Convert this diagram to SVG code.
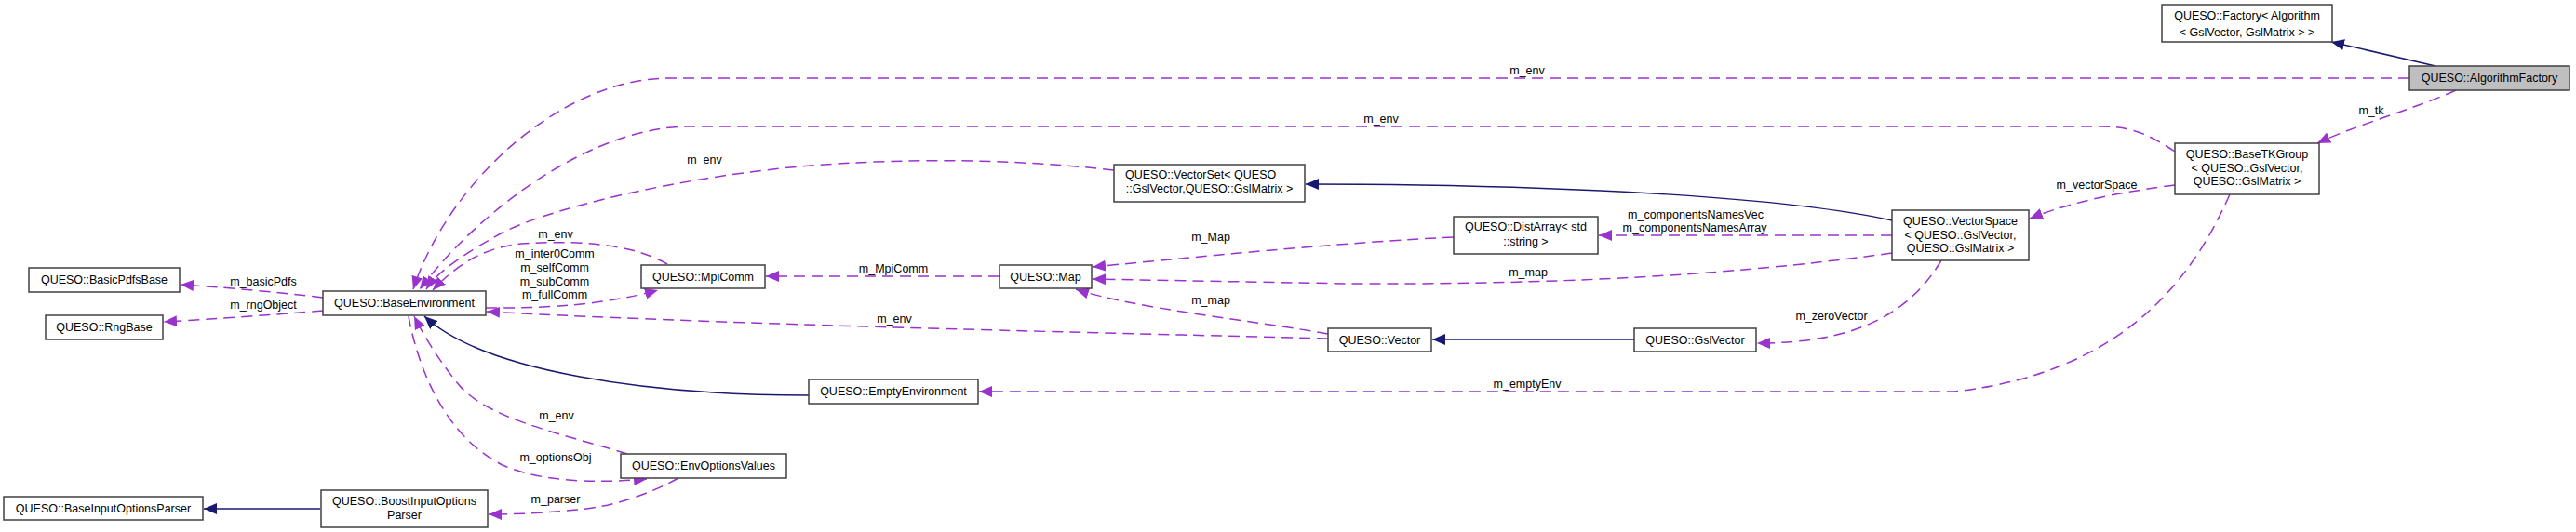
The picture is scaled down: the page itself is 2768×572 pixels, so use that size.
<svg xmlns="http://www.w3.org/2000/svg" width="2768" height="572" viewBox="0 0 2768 572">
<defs>
<style>
.n rect{fill:#ffffff;stroke:#404040;stroke-width:1.5}
.n text,.el text{font-family:"Liberation Sans",Arial,sans-serif;font-size:12.5px;fill:#000}
.n text{text-anchor:middle}
.el text{text-anchor:middle}
.a{fill:none;stroke:#9a32cd;stroke-width:1.5;stroke-dasharray:12 7;marker-end:url(#ap)}
.i{fill:none;stroke:#191970;stroke-width:1.5;marker-end:url(#ai)}
</style>
<marker id="ap" viewBox="0 0 14 12" refX="14" refY="6" markerWidth="14" markerHeight="12" markerUnits="userSpaceOnUse" orient="auto"><path d="M0,0 L14,6 L0,12 z" fill="#9a32cd"/></marker>
<marker id="ai" viewBox="0 0 14 12" refX="14" refY="6" markerWidth="14" markerHeight="12" markerUnits="userSpaceOnUse" orient="auto"><path d="M0,0 L14,6 L0,12 z" fill="#191970"/></marker>
</defs>
<rect width="2768" height="572" fill="#ffffff"/>
<g id="edges">
<path class="i" d="M2617,71 L2505,45"/>
<path class="a" d="M2589,84 L720,84 C600,84 480,200 444,311"/>
<path class="a" d="M2639,97 C2600,115 2530,135 2490,154"/>
<path class="a" d="M2337,163 C2310,145 2290,136 2260,136 L740,136 C640,136 520,220 451,311"/>
<path class="a" d="M1197,183 C1100,172 1000,170 900,176 C760,184 600,220 540,250 C500,272 470,292 458,311"/>
<path class="a" d="M2337,199 C2290,205 2230,215 2181,235"/>
<path class="a" d="M2396,209 C2360,290 2290,400 2100,421 L1052,421"/>
<path class="i" d="M2033,237 C1930,214 1700,198 1403,198"/>
<path class="a" d="M2033,253 L1718,253"/>
<path class="a" d="M2033,272 C1850,298 1650,306 1450,305 L1174,300"/>
<path class="a" d="M2086,280 C2050,340 1990,369 1888,369"/>
<path class="a" d="M1562,255 C1450,260 1300,275 1174,287"/>
<path class="a" d="M1074,297 L823,297"/>
<path class="a" d="M1427,359 C1350,345 1220,332 1156,311"/>
<path class="i" d="M1756,365 L1539,365"/>
<path class="a" d="M1427,364 C1200,358 800,350 523,335"/>
<path class="a" d="M717,284 C680,262 620,258 560,262 C520,266 490,285 465,312"/>
<path class="a" d="M522,331 C600,332 660,325 707,312"/>
<path class="a" d="M347,320 C300,314 240,309 194,306"/>
<path class="a" d="M347,334 C300,338 230,343 176,346"/>
<path class="i" d="M869,425 C700,425 520,400 456,340"/>
<path class="a" d="M674,488 C600,465 520,450 490,410 C470,385 455,360 445,340"/>
<path class="a" d="M439,340 C450,400 480,470 540,500 C580,518 640,520 695,515"/>
<path class="a" d="M729,514 C700,530 660,545 620,548 C580,552 550,553 525,553"/>
<path class="i" d="M344,547 L219,547"/>
</g>
<g id="edge-labels" class="el">
<text x="1641" y="80">m_env</text>
<text x="2548" y="123">m_tk</text>
<text x="1484" y="132">m_env</text>
<text x="2253" y="203">m_vectorSpace</text>
<text x="757" y="176">m_env</text>
<text x="597" y="256">m_env</text>
<text x="596" y="277">m_inter0Comm</text>
<text x="596" y="292">m_selfComm</text>
<text x="596" y="307">m_subComm</text>
<text x="596" y="321">m_fullComm</text>
<text x="960" y="293">m_MpiComm</text>
<text x="1301" y="259">m_Map</text>
<text x="1301" y="327">m_map</text>
<text x="1642" y="297">m_map</text>
<text x="1822" y="235">m_componentsNamesVec</text>
<text x="1821" y="249">m_componentsNamesArray</text>
<text x="1968" y="344">m_zeroVector</text>
<text x="961" y="347">m_env</text>
<text x="1641" y="417">m_emptyEnv</text>
<text x="283" y="307">m_basicPdfs</text>
<text x="283" y="332">m_rngObject</text>
<text x="598" y="451">m_env</text>
<text x="597" y="496">m_optionsObj</text>
<text x="597" y="541">m_parser</text>
</g>
<g id="Factory" class="n"><rect x="2323" y="5" width="183" height="40"/><text x="2414.5" y="21">QUESO::Factory&lt; Algorithm</text><text x="2414.5" y="39">&lt; GslVector, GslMatrix &gt; &gt;</text></g>
<g id="AlgorithmFactory" class="n"><rect x="2589" y="71" width="172" height="26" style="fill:#bfbfbf"/><text x="2675" y="88">QUESO::AlgorithmFactory</text></g>
<g id="BaseTKGroup" class="n"><rect x="2337" y="154" width="155" height="55"/><text x="2414.5" y="170">QUESO::BaseTKGroup</text><text x="2414.5" y="185">&lt; QUESO::GslVector,</text><text x="2414.5" y="199">QUESO::GslMatrix &gt;</text></g>
<g id="VectorSet" class="n"><rect x="1197" y="177" width="205" height="40"/><text x="1209" y="192" style="text-anchor:start">QUESO::VectorSet&lt; QUESO</text><text x="1299.5" y="207">::GslVector,QUESO::GslMatrix &gt;</text></g>
<g id="DistArray" class="n"><rect x="1562" y="233" width="155" height="40"/><text x="1574" y="248" style="text-anchor:start">QUESO::DistArray&lt; std</text><text x="1639.5" y="264">::string &gt;</text></g>
<g id="VectorSpace" class="n"><rect x="2033" y="226" width="147" height="54"/><text x="2106.5" y="242">QUESO::VectorSpace</text><text x="2106.5" y="257">&lt; QUESO::GslVector,</text><text x="2106.5" y="271">QUESO::GslMatrix &gt;</text></g>
<g id="Map" class="n"><rect x="1074" y="285" width="99" height="25"/><text x="1123.5" y="302">QUESO::Map</text></g>
<g id="MpiComm" class="n"><rect x="689" y="285" width="133" height="25"/><text x="755.5" y="302">QUESO::MpiComm</text></g>
<g id="BaseEnvironment" class="n"><rect x="347" y="313" width="175" height="26"/><text x="434.5" y="330">QUESO::BaseEnvironment</text></g>
<g id="BasicPdfsBase" class="n"><rect x="31" y="288" width="162" height="26"/><text x="112" y="305">QUESO::BasicPdfsBase</text></g>
<g id="RngBase" class="n"><rect x="49" y="339" width="126" height="26"/><text x="112" y="356">QUESO::RngBase</text></g>
<g id="Vector" class="n"><rect x="1427" y="353" width="111" height="25"/><text x="1482.5" y="370">QUESO::Vector</text></g>
<g id="GslVector" class="n"><rect x="1756" y="353" width="131" height="25"/><text x="1821.5" y="370">QUESO::GslVector</text></g>
<g id="EmptyEnvironment" class="n"><rect x="869" y="408" width="182" height="26"/><text x="960" y="425">QUESO::EmptyEnvironment</text></g>
<g id="EnvOptionsValues" class="n"><rect x="667" y="488" width="178" height="26"/><text x="756" y="505">QUESO::EnvOptionsValues</text></g>
<g id="BaseInputOptionsParser" class="n"><rect x="4" y="534" width="214" height="25"/><text x="111" y="551">QUESO::BaseInputOptionsParser</text></g>
<g id="BoostInputOptionsParser" class="n"><rect x="345" y="527" width="179" height="40"/><text x="434.5" y="543">QUESO::BoostInputOptions</text><text x="434.5" y="558">Parser</text></g>
</svg>
